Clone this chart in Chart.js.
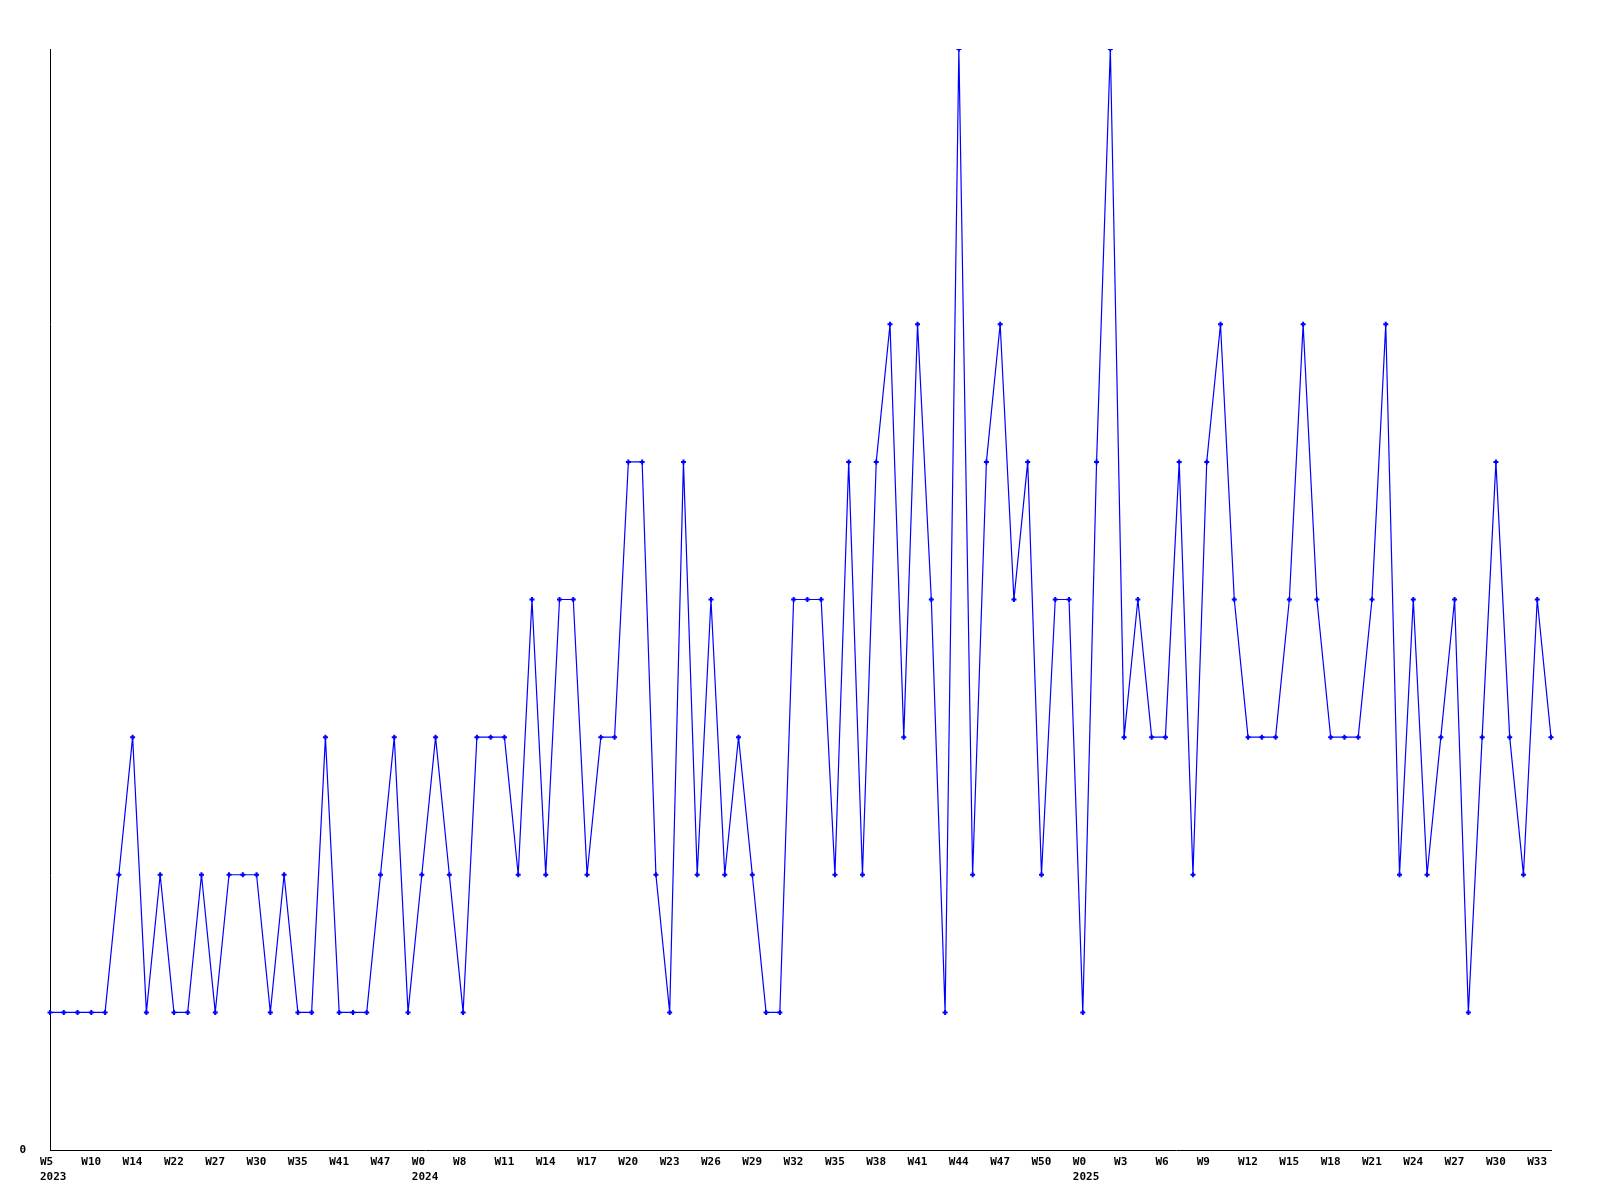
<!DOCTYPE html>
<html>
<head>
<meta charset="utf-8">
<script src="https://cdn.jsdelivr.net/npm/chart.js@4.4.1/dist/chart.umd.min.js"></script>
<style>
  body { margin: 0; background: #fff; }
  #wrap { width: 1600px; height: 1200px; }
</style>
</head>
<body>
<div id="wrap"><canvas id="myChart"></canvas></div>
<script>
// weeks shown on the x axis, one list per year
const weeks2023 = [5, 6, 8, 10, 11, 12, 14, 16, 19, 22, 24, 25, 27, 28, 29, 30, 32, 33, 35, 37, 39, 41, 43, 45, 47, 49, 51];
const weeks2024 = [0, 3, 5, 8, 9, 10, 11, 12, 13, 14, 15, 16, 17, 18, 19, 20, 21, 22, 23, 24, 25, 26, 27, 28, 29, 30,
  31, 32, 33, 34, 35, 36, 37, 38, 39, 40, 41, 42, 43, 44, 45, 46, 47, 48, 49, 50, 51, 52];
const weeks2025 = [0, 1, 2, 3, 4, 5, 6, 7, 8, 9, 10, 11, 12, 13, 14, 15, 16, 17, 18, 19, 20, 21, 22, 23, 24, 25,
  26, 27, 28, 29, 30, 31, 32, 33, 34];

const counts = [
  1, 1, 1, 1, 1, 2, 3, 1, 2, 1, 1, 2, 1, 2, 2, 2, 1, 2, 1, 1, 3, 1, 1, 1, 2, 3, 1,
  2, 3, 2, 1, 3, 3, 3, 2, 4, 2, 4, 4, 2, 3, 3, 5, 5, 2, 1, 5, 2, 4, 2, 3, 2, 1, 1,
  4, 4, 4, 2, 5, 2, 5, 6, 3, 6, 4, 1, 8, 2, 5, 6, 4, 5, 2, 4, 4,
  1, 5, 8, 3, 4, 3, 3, 5, 2, 5, 6, 4, 3, 3, 3, 4, 6, 4, 3, 3, 3, 4, 6, 2, 4, 2, 3,
  4, 1, 3, 5, 3, 2, 4, 3
];

const labels = [];
const years = [];
weeks2023.forEach(w => { labels.push('W' + w); years.push(2023); });
weeks2024.forEach(w => { labels.push('W' + w); years.push(2024); });
weeks2025.forEach(w => { labels.push('W' + w); years.push(2025); });

const tickFont = { family: 'DejaVu Sans Mono', size: 11, weight: 'bold', lineHeight: '15px' };

const data = {
  labels: labels,
  datasets: [{
    data: counts,
    borderColor: '#0000ff',
    backgroundColor: '#0000ff',
    borderWidth: 1.2,
    pointStyle: 'cross',
    pointRadius: 2.5,
    pointBorderWidth: 2,
    pointHoverRadius: 2.5,
    tension: 0,
  }]
};

const config = {
  type: 'line',
  data: data,
  options: {
    responsive: true,
    maintainAspectRatio: false,
    animation: false,
    layout: { padding: { top: 49, right: 49, left: 0, bottom: 0 } },
    plugins: { legend: { display: false }, tooltip: { enabled: false } },
    scales: {
      x: {
        grid: { display: false, drawTicks: false },
        border: { color: '#000', width: 1 },
        afterFit: s => { s.height = 50; },
        ticks: {
          autoSkip: false,
          maxRotation: 0,
          align: 'start',
          labelOffset: -10,
          padding: 5,
          color: '#000',
          font: tickFont,
          callback: function (v, i) {
            if (i % 3 !== 0) return null;
            if (i === 0 || years[i] !== years[i - 3]) return [labels[i], String(years[i])];
            return labels[i];
          }
        }
      },
      y: {
        min: 0,
        max: 8,
        grid: { display: false, drawTicks: false },
        border: { color: '#000', width: 1 },
        afterFit: s => { s.width = 50; },
        ticks: {
          stepSize: 1,
          padding: 24,
          color: '#000',
          font: tickFont,
          callback: v => (v === 0 ? '0' : null)
        }
      }
    }
  }
};

const myChart = new Chart(document.getElementById('myChart'), config);
</script>
</body>
</html>
